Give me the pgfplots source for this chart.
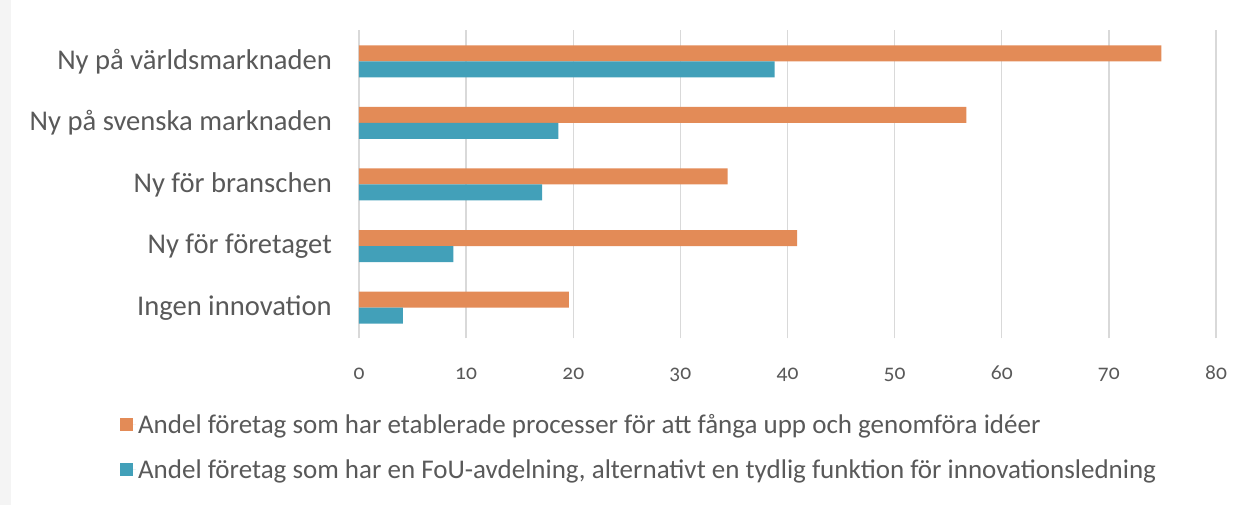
\documentclass[border=0pt]{standalone}
\usepackage{fontspec}
\setmainfont{Carlito}[Numbers=OldStyle]
\usepackage{pgfplots}
\pgfplotsset{compat=1.18}

\definecolor{orangebar}{HTML}{E38B57}
\definecolor{bluebar}{HTML}{42A0B9}
\definecolor{gridgrey}{HTML}{D9D9D9}
\definecolor{txt}{HTML}{595959}
\definecolor{frame}{HTML}{F4F4F4}

\begin{document}
\begin{tikzpicture}
% page: 1250 x 505, axis lower left at (0,0)
\useasboundingbox (-359pt,-166.5pt) rectangle (891pt,338.5pt);
\fill[frame] (-359pt,-166.5pt) rectangle (-348pt,338.5pt);
\begin{axis}[
    at={(0pt,0pt)}, anchor=south west,
    scale only axis,
    width=857pt, height=308pt,
    xbar, bar width=16pt,
    xmin=0, xmax=80,
    ymin=-0.5, ymax=4.5,
    xtick={0,10,...,80},
    ytick={0,1,2,3,4},
    yticklabels={Ingen innovation,Ny för företaget,Ny för branschen,Ny på svenska marknaden,Ny på världsmarknaden},
    major tick length=0pt,
    axis line style={draw=none},
    xmajorgrids,
    grid style={gridgrey, line width=1.3pt},
    /pgf/number format/assume math mode=true,
    xticklabel style={font=\fontsize{21.5}{25}\selectfont, text=txt, anchor=base, yshift=-41pt},
    yticklabel style={font=\fontsize{28.6}{32}\selectfont, text=txt, anchor=east, inner sep=0pt, xshift=-27pt},
    legend style={
        at={(-0.279,-0.238)}, anchor=north west,
        draw=none, fill=none, inner sep=0pt,
        font=\fontsize{27}{31}\selectfont, text=txt,
        row sep=21pt,
        cells={anchor=west},
    },
    legend image code/.code={\fill[#1] (0pt,-6.5pt) rectangle (13pt,6.5pt);
        \path (0pt,0pt) -- (16pt,0pt);},
]
\addplot[fill=orangebar, draw=none, bar shift=8pt] coordinates {
    (19.6,0) (40.9,1) (34.4,2) (56.7,3) (74.9,4)};
\addlegendentry{Andel företag som har etablerade processer för att fånga upp och genomföra idéer}
\addplot[fill=bluebar, draw=none, bar shift=-8pt] coordinates {
    (4.1,0) (8.8,1) (17.1,2) (18.6,3) (38.8,4)};
\addlegendentry{Andel företag som har en FoU-avdelning, alternativt en tydlig funktion för innovationsledning}
\end{axis}
\end{tikzpicture}
\end{document}
